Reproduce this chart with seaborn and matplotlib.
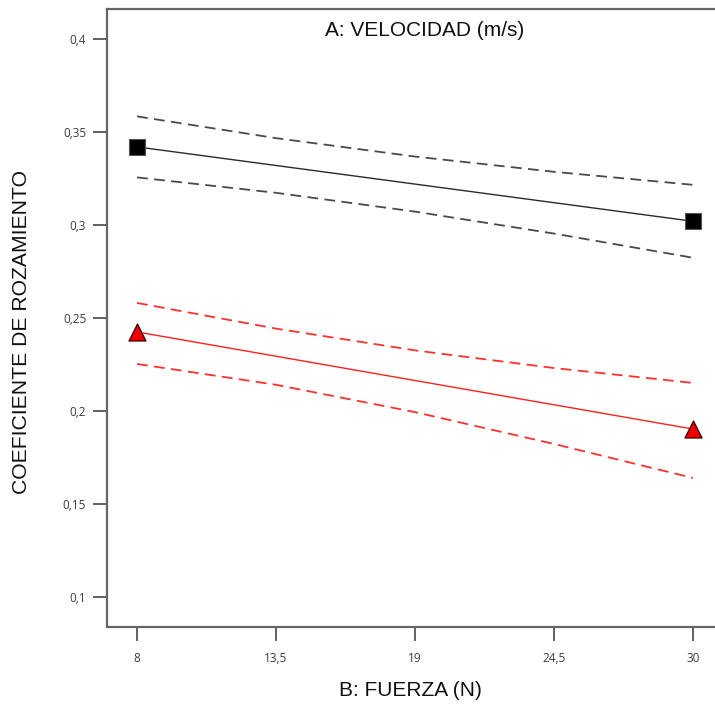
import matplotlib
matplotlib.use("Agg")
import matplotlib.pyplot as plt
import seaborn as sns
import pandas as pd

# Factor B levels (force, N) where the model is evaluated
fuerza_ends = [8, 30]
fuerza_band = [8, 13.5, 19, 24.5, 30]

# Predicted friction coefficient for each velocity level
coef_alta = [0.342, 0.302]
coef_baja = [0.2425, 0.1903]

# 95% confidence limits around each prediction
alta_sup = [0.3584, 0.3467, 0.3368, 0.3286, 0.3216]
alta_inf = [0.3256, 0.3173, 0.3072, 0.2954, 0.2824]
baja_sup = [0.2581, 0.2443, 0.2326, 0.2231, 0.2151]
baja_inf = [0.2253, 0.2141, 0.1994, 0.1823, 0.1640]

x_ticks = [8, 13.5, 19, 24.5, 30]
x_tick_labels = ["8", "13,5", "19", "24,5", "30"]
y_ticks = [0.1, 0.15, 0.2, 0.25, 0.3, 0.35, 0.4]
y_tick_labels = ["0,1", "0,15", "0,2", "0,25", "0,3", "0,35", "0,4"]

sns.set_style("white")
plt.rcParams["font.family"] = ["Liberation Sans", "DejaVu Sans"]

W, H = 715, 705
fig = plt.figure(figsize=(W / 100, H / 100), dpi=100)
left, right, top, bottom = 107, 743, 9, 627
ax = fig.add_axes([left / W, (H - bottom) / H, (right - left) / W, (bottom - top) / H])

means = pd.DataFrame({"x": fuerza_ends * 2,
                      "y": coef_alta + coef_baja,
                      "nivel": ["alta"] * 2 + ["baja"] * 2})
bands = pd.DataFrame({"x": fuerza_band * 4,
                      "y": alta_sup + alta_inf + baja_sup + baja_inf,
                      "curva": ["as"] * 5 + ["ai"] * 5 + ["bs"] * 5 + ["bi"] * 5})

dash_colors = {"as": "#4a4a4a", "ai": "#4a4a4a", "bs": "#ff3030", "bi": "#ff3030"}
for key, sub in bands.groupby("curva"):
    sns.lineplot(data=sub, x="x", y="y", ax=ax, color=dash_colors[key],
                 linewidth=1.3, dashes=False, linestyle=(0, (6, 3.5)), legend=False)

sub = means[means.nivel == "alta"]
sns.lineplot(data=sub, x="x", y="y", ax=ax, color="#2a2a2a", linewidth=1.0, legend=False)
sns.scatterplot(data=sub, x="x", y="y", ax=ax, marker="s", s=130, color="black",
                edgecolor="#555555", linewidth=0.8, zorder=5, legend=False)
sub = means[means.nivel == "baja"]
sns.lineplot(data=sub, x="x", y="y", ax=ax, color="#ff2020", linewidth=1.0, legend=False)
sns.scatterplot(data=sub, x="x", y="y", ax=ax, marker="^", s=150, color="#ee0000",
                edgecolor="#3a0000", linewidth=0.9, zorder=5, legend=False)

ax.set_xlim(8 - 30 / 25.27, 8 + (right - 137) / 25.27)
ax.set_ylim(0.4 - (bottom - 39) / 1860, 0.4 + 30 / 1860)
ax.set_xticks(x_ticks)
ax.set_xticklabels(x_tick_labels)
ax.set_yticks(y_ticks)
ax.set_yticklabels(y_tick_labels)
ax.tick_params(bottom=True, left=True, top=False, right=False,
               direction="out", length=10, width=1.4, color="#606060",
               labelsize=8.5, labelcolor="#3c3c3c")
ax.tick_params(axis="x", pad=8)
ax.tick_params(axis="y", pad=5)
for lab in ax.get_xticklabels() + ax.get_yticklabels():
    lab.set_family(["Open Sans", "DejaVu Sans"])
for side in ["left", "bottom", "top", "right"]:
    ax.spines[side].set_color("#666666")
    ax.spines[side].set_linewidth(1.6)
ax.set_xlabel("")
ax.set_ylabel("")

ax.text(0.5, 1 - 22 / (bottom - top), "A: VELOCIDAD (m/s)", transform=ax.transAxes,
        ha="center", va="center", fontsize=15, color="#111111")
fig.text(410 / W, 1 - 690 / H, "B: FUERZA (N)", ha="center", va="center",
         fontsize=15, color="#111111")
fig.text(22 / W, 1 - 332 / H, "COEFICIENTE DE ROZAMIENTO", ha="center", va="center",
         rotation=90, fontsize=15.2, color="#111111")

fig.savefig("out.png", dpi=100)
